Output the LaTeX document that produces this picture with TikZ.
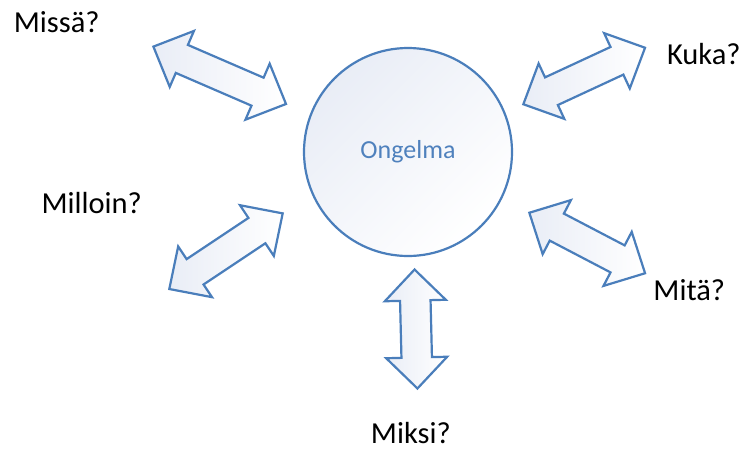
\documentclass[tikz,border=0pt]{standalone}
\usepackage{fontspec}
\setmainfont{Carlito}
\definecolor{accent}{HTML}{4A7EBB}
\definecolor{ongtext}{HTML}{4F81BD}
\definecolor{paleblue}{HTML}{E9EDF6}
\tikzset{
  shapeline/.style={draw=accent, line width=2.2pt, line join=miter},
  arrowbody/.style={shapeline, left color=paleblue, right color=white},
  question/.style={anchor=base, font=\fontsize{30.5}{36}\selectfont, text=black, inner sep=0pt},
}
% two-headed block arrow: centre, direction angle, half length
\newcommand\twowayarrow[3]{%
  \path[arrowbody, shift={#1}, rotate=#2]
    (-#3,0) -- ++(31,30.5) -- ++(0,-15.25) -- (#3-31,15.25) -- ++(0,15.25)
    -- (#3,0) -- ++(-31,-30.5) -- ++(0,15.25) -- (-#3+31,-15.25) -- ++(0,-15.25) -- cycle;}
\begin{document}
\begin{tikzpicture}[x=1pt, y=-1pt]
  \useasboundingbox[fill=white] (0,0) rectangle (744,450);

  % central problem
  \node[circle, shapeline, top color=paleblue, bottom color=white, shading angle=45,
        minimum size=208pt, inner sep=0pt, text=ongtext,
        font=\fontsize{26}{30}\selectfont] (ongelma) at (408,152) {Ongelma};

  % arrows between the problem and the questions
  \twowayarrow{(219.7,75.3)}{-23.4}{72.25}
  \twowayarrow{(584.2,76)}{24.9}{67.1}
  \twowayarrow{(226,251.2)}{33.7}{68.15}
  \twowayarrow{(587.2,243)}{-27.6}{65.3}
  \twowayarrow{(416,329)}{91.4}{59.5}

  % questions
  \node[question] (missa) at (56.7,32.3) {Missä?};
  \node[question] (kuka) at (703.8,64.3) {Kuka?};
  \node[question] (milloin) at (91.7,213.3) {Milloin?};
  \node[question] (mita) at (689.3,300) {Mitä?};
  \node[question] (miksi) at (410.8,443.8) {Miksi?};
\end{tikzpicture}
\end{document}
